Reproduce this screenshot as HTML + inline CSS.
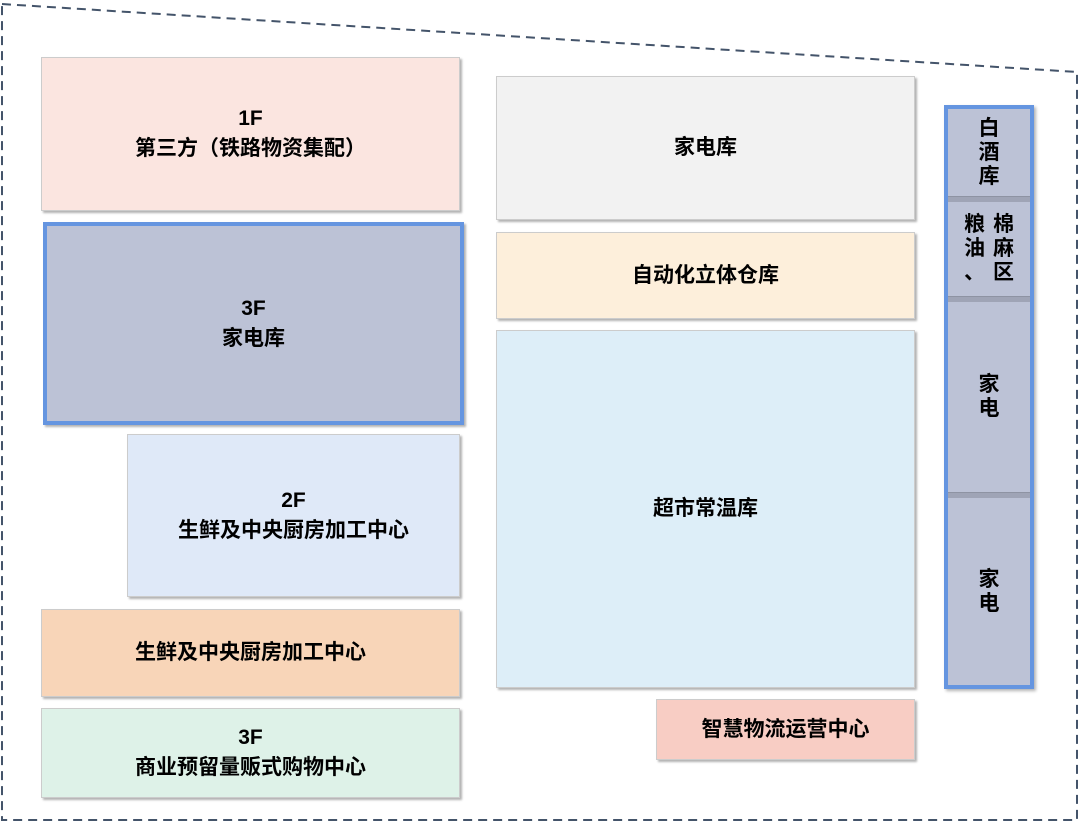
<!DOCTYPE html>
<html><head><meta charset="utf-8"><style>
body{margin:0;width:1080px;height:823px;background:#fff;position:relative;overflow:hidden;font-family:"Liberation Sans","Noto Sans CJK SC",sans-serif;font-weight:bold;color:#000}
.b{position:absolute;box-sizing:border-box;display:flex;align-items:center;justify-content:center;text-align:center;font-size:21px;line-height:30px;box-shadow:2px 2px 2px rgba(0,0,0,.3);border:1px solid #ccc}
.v{position:absolute;left:948px;width:82px;box-sizing:border-box;display:flex;align-items:center;justify-content:center;font-size:21px;line-height:24px;text-align:center}
.sep{position:absolute;left:948px;width:82px;height:5px;background:#9fa4b6;border-top:1px solid #8e93a3}
</style></head><body>
<svg width="1080" height="823" style="position:absolute;left:0;top:0">
<polyline points="2,4 1077,72 1077,820 2,820 2,4" fill="none" stroke="#44546a" stroke-width="2" stroke-dasharray="9,6"/>
</svg>
<div class="b" style="left:41px;top:57px;width:419px;height:154px;background:#fbe5e0">1F<br>第三方（铁路物资集配）</div>
<div class="b" style="left:43px;top:222px;width:421px;height:203px;background:#bcc2d6;border:4px solid #6595e0">3F<br>家电库</div>
<div class="b" style="left:127px;top:434px;width:333px;height:163px;background:#dfe9f8">2F<br>生鲜及中央厨房加工中心</div>
<div class="b" style="left:41px;top:609px;width:419px;height:88px;background:#f8d5b8">生鲜及中央厨房加工中心</div>
<div class="b" style="left:41px;top:708px;width:419px;height:90px;background:#def2e8">3F<br>商业预留量贩式购物中心</div>
<div class="b" style="left:496px;top:76px;width:419px;height:144px;background:#f2f2f2">家电库</div>
<div class="b" style="left:496px;top:232px;width:419px;height:87px;background:#fdefdb">自动化立体仓库</div>
<div class="b" style="left:496px;top:330px;width:419px;height:358px;background:#ddeef8">超市常温库</div>
<div class="b" style="left:656px;top:699px;width:259px;height:61px;background:#f8cdc4">智慧物流运营中心</div>
<div style="position:absolute;left:944px;top:105px;width:90px;height:584px;box-sizing:border-box;border:4px solid #6595e0;background:#bcc2d6;box-shadow:2px 2px 3px rgba(0,0,0,.3)"></div>
<div class="sep" style="top:196px"></div>
<div class="sep" style="top:296px"></div>
<div class="sep" style="top:492px"></div>
<div class="v" style="top:109px;height:87px">白<br>酒<br>库</div>
<div class="v" style="top:202px;height:94px"><div style="display:flex;gap:8px"><div>粮<br>油<br>、</div><div>棉<br>麻<br>区</div></div></div>
<div class="v" style="top:302px;height:190px">家<br>电</div>
<div class="v" style="top:498px;height:187px">家<br>电</div>
</body></html>
